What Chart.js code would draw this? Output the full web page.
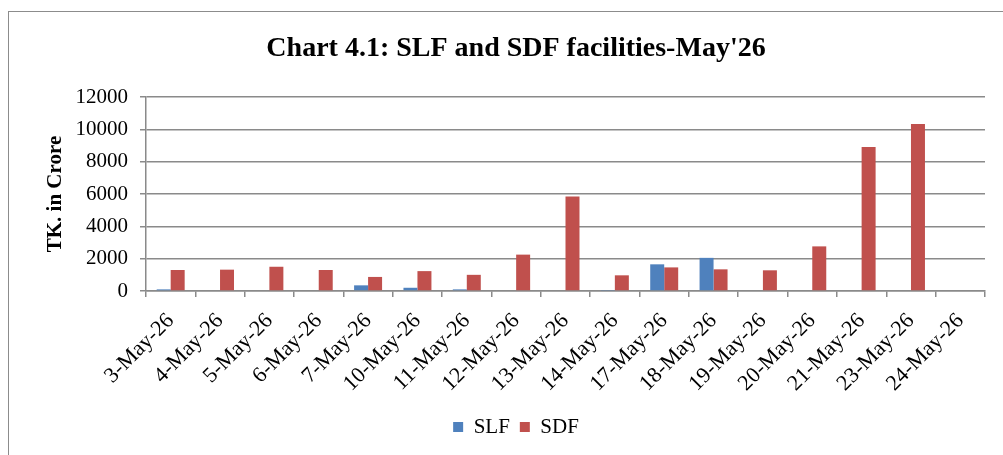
<!DOCTYPE html>
<html>
<head>
<meta charset="utf-8">
<script src="https://cdn.jsdelivr.net/npm/chart.js@4.4.1/dist/chart.umd.min.js"></script>
<style>
  html, body { margin: 0; padding: 0; background: #fff; overflow: hidden; }
  #wrap { position: relative; width: 1003px; height: 455px; }
  #frame { position: absolute; left: 8px; top: 11px; width: 1200px; height: 800px; border: 1px solid #8c8c8c; box-sizing: border-box; }
  canvas { position: absolute; left: 0; top: 0; }
</style>
</head>
<body>
<div id="wrap">
  <div id="frame"></div>
  <canvas id="c" width="1003" height="455"></canvas>
</div>
<script>
const categories = ['3-May-26','4-May-26','5-May-26','6-May-26','7-May-26','10-May-26','11-May-26','12-May-26','13-May-26','14-May-26','17-May-26','18-May-26','19-May-26','20-May-26','21-May-26','23-May-26','24-May-26'];
const slfValues = [100, 0, 0, 0, 350, 200, 100, 0, 0, 30, 1650, 2050, 0, 0, 0, 0, 0];
const sdfValues = [1300, 1320, 1500, 1300, 870, 1230, 1000, 2250, 5850, 970, 1460, 1340, 1280, 2760, 8910, 10330, 0];
const yTicks = [0, 2000, 4000, 6000, 8000, 10000, 12000];

const FONT = "'Liberation Serif', 'Times New Roman', serif";
const GRID = '#8a8a8a';

new Chart(document.getElementById('c'), {
  type: 'bar',
  data: {
    labels: categories,
    datasets: [
      { label: 'SLF', data: slfValues, backgroundColor: '#4F81BD', categoryPercentage: 0.567, barPercentage: 1 },
      { label: 'SDF', data: sdfValues, backgroundColor: '#C0504D', categoryPercentage: 0.567, barPercentage: 1 }
    ]
  },
  options: {
    responsive: false,
    animation: false,
    layout: { padding: { left: 47, right: 18, top: 0, bottom: 7.5 } },
    plugins: {
      title: {
        display: true,
        text: "Chart 4.1: SLF and SDF facilities-May'26",
        color: '#000',
        font: { family: FONT, size: 28, weight: 'bold' },
        padding: { top: 32, bottom: 31.4 }
      },
      legend: {
        position: 'bottom',
        labels: {
          color: '#000',
          font: { family: FONT, size: 21 },
          boxWidth: 10,
          boxHeight: 10,
          padding: 10
        }
      },
      tooltip: { enabled: false }
    },
    scales: {
      x: {
        grid: { display: true, drawOnChartArea: false, drawTicks: true, tickLength: 6, color: GRID, lineWidth: 1.5 },
        border: { display: true, color: GRID, width: 1.5 },
        ticks: {
          color: '#000',
          font: { family: FONT, size: 22 },
          minRotation: 45,
          maxRotation: 45,
          autoSkip: false,
          padding: 11
        },
        afterFit: (s) => { s.height = 115.5; }
      },
      y: {
        min: 0,
        max: 12000,
        afterBuildTicks: (s) => { s.ticks = yTicks.map(v => ({ value: v })); },
        grid: { color: GRID, lineWidth: 1.5, tickLength: 6, drawTicks: true },
        border: { display: true, color: GRID, width: 1.5 },
        ticks: {
          color: '#000',
          font: { family: FONT, size: 21 },
          padding: 12,
          callback: (v) => String(v)
        },
        title: {
          display: true,
          text: 'TK. in Crore',
          color: '#000',
          font: { family: FONT, size: 21, weight: 'bold' },
          padding: { top: -4, bottom: 0 }
        },
        afterFit: (s) => { s.width = 99; }
      }
    }
  }
});
</script>
</body>
</html>
